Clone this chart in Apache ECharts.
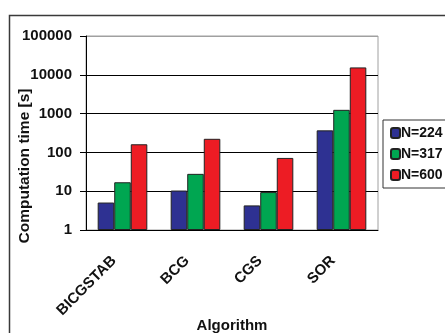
<!DOCTYPE html>
<html><head><meta charset="utf-8">
<script src="https://cdn.jsdelivr.net/npm/echarts@6/dist/echarts.min.js"></script>
<style>html,body{margin:0;padding:0;background:#fff}#c{width:445px;height:333px}</style>
</head><body><div id="c"></div>
<script>
var categories = ['BICGSTAB', 'BCG', 'CGS', 'SOR'];
var seriesNames = ['N=224', 'N=317', 'N=600'];
var n224 = [5.1, 10.4, 4.3, 370];
var n317 = [17, 28, 9.5, 1250];
var n600 = [162, 224, 72, 15500];
var yTicks = [1, 10, 100, 1000, 10000, 100000];
var colors = ['#2E3192', '#00A651', '#ED1C24'];

var FONT = '"Liberation Sans", Arial, sans-serif';
var chart = echarts.init(document.getElementById('c'), null, {renderer: 'canvas'});
var data = [n224, n317, n600];
chart.setOption({
  animation: false,
  backgroundColor: '#fff',
  textStyle: {fontFamily: FONT},
  graphic: [{
    type: 'rect', left: 7, top: 13, silent: true,
    shape: {width: 520, height: 420},
    style: {fill: 'none', stroke: '#3a3a3a', lineWidth: 1.5}
  }],
  grid: {left: 86, top: 36, right: 67, bottom: 103, show: true, borderColor: '#a0a0a0', borderWidth: 1,
         containLabel: false, outerBoundsMode: 'none'},
  legend: {
    orient: 'vertical', left: 383, top: 120,
    data: seriesNames,
    itemWidth: 9, itemHeight: 10, itemGap: 7,
    padding: [6, 20, 6, 7],
    borderColor: '#333', borderWidth: 1,
    textStyle: {fontFamily: FONT, fontWeight: 'bold', fontSize: 14, color: '#111', padding: [0, 0, 0, -4]}
  },
  xAxis: {
    type: 'category', data: categories,
    axisLine: {lineStyle: {color: '#000', width: 1}},
    axisTick: {length: 5, lineStyle: {color: '#000'}},
    axisLabel: {rotate: 45, margin: 20, padding: [0, 12, 0, 0], fontFamily: FONT, fontWeight: 'bold', fontSize: 15, color: '#111'},
    name: 'Algorithm', nameLocation: 'middle', nameGap: 88, nameMoveOverlap: false,
    nameTextStyle: {fontFamily: FONT, fontWeight: 'bold', fontSize: 15, color: '#111'}
  },
  yAxis: {
    type: 'log', logBase: 10, min: yTicks[0], max: yTicks[yTicks.length - 1],
    axisLine: {show: true, lineStyle: {color: '#000', width: 1}},
    axisTick: {show: true, length: 6, lineStyle: {color: '#000'}},
    axisLabel: {margin: 14, fontFamily: FONT, fontWeight: 'bold', fontSize: 15, color: '#111',
                formatter: function (v) { return String(Math.round(v)); }},
    splitLine: {show: true, lineStyle: {color: ['#000', '#000', '#000', '#000', '#000', '#a0a0a0'], width: 1}},
    name: 'Computation time [s]', nameLocation: 'middle', nameGap: 53, nameMoveOverlap: false,
    nameTextStyle: {fontFamily: FONT, fontWeight: 'bold', fontSize: 15.5, color: '#111', padding: [0, 66, 0, 0]}
  },
  series: seriesNames.map(function (nm, i) {
    return {
      name: nm, type: 'bar', data: data[i],
      barGap: 0, barCategoryGap: '32%',
      itemStyle: {color: colors[i], borderColor: '#222', borderWidth: 1}
    };
  })
});
</script></body></html>
